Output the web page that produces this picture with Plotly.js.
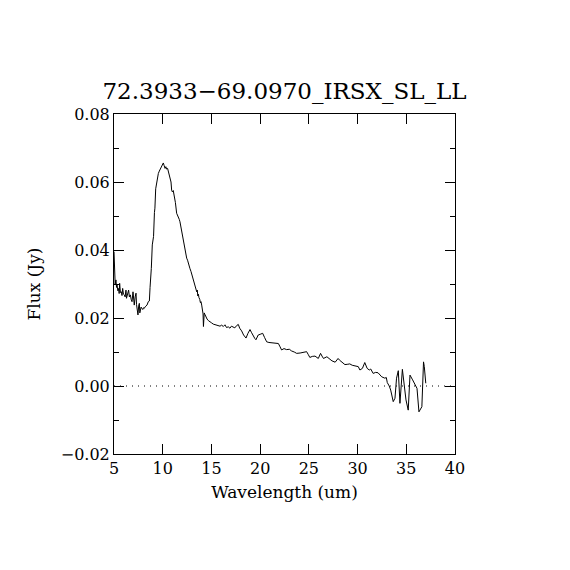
<!DOCTYPE html>
<html>
<head>
<meta charset="utf-8">
<script src="https://cdn.plot.ly/plotly-3.0.1.min.js"></script>
<style>html,body{margin:0;padding:0;background:#fff;}#chart{width:570px;height:570px;}</style>
</head>
<body>
<div id="chart"></div>
<script>
const wavelength = [
5.00,5.03,5.06,5.12,5.20,5.26,5.31,5.40,5.48,5.53,5.58,5.66,5.75,5.82,5.89,5.97,6.06,6.14,6.23,6.28,
6.33,6.42,6.50,6.58,6.68,6.76,6.85,6.95,7.02,7.08,7.17,7.26,7.31,7.36,7.46,7.53,7.60,7.65,7.70,7.78,
7.87,7.95,8.02,8.10,8.20,8.30,8.39,8.52,8.63,8.70,8.76,8.83,8.93,9.06,9.15,9.20,9.28,9.38,9.48,9.55,
9.65,9.72,9.85,9.96,10.06,10.15,10.24,10.32,10.40,10.50,10.58,10.65,10.75,10.85,10.92,10.99,11.08,11.20,11.30,11.43,
11.52,11.60,11.70,11.77,11.86,11.95,12.05,12.15,12.22,12.30,12.38,12.46,12.55,12.63,12.70,12.80,12.90,12.97,13.05,13.12,
13.18,13.24,13.32,13.40,13.49,13.55,13.60,13.66,13.72,13.80,13.87,13.93,14.00,14.05,14.10,14.14,14.18,14.22,14.26,14.34,
14.45,14.55,14.70,14.85,15.00,15.19,15.37,15.55,15.70,15.88,16.05,16.22,16.39,16.55,16.73,16.90,17.05,17.24,17.40,17.60,
17.76,17.90,18.10,18.30,18.55,18.75,18.96,19.10,19.30,19.45,19.57,19.70,19.80,20.00,20.26,20.45,20.67,20.90,21.18,21.50,
21.87,22.05,22.20,22.45,22.72,23.00,23.23,23.50,23.75,24.10,24.43,24.77,24.95,25.10,25.35,25.63,25.97,26.20,26.35,26.50,
26.85,27.10,27.37,27.70,28.00,28.15,28.40,28.70,29.00,29.20,29.45,29.70,30.07,30.24,30.50,30.74,30.85,30.98,31.20,31.35,
31.60,31.85,32.10,32.30,32.48,32.80,32.95,33.05,33.25,33.40,33.66,33.84,34.00,34.18,34.28,34.35,34.60,34.80,34.97,35.20,
35.38,35.65,35.90,36.10,36.30,36.60,36.77,36.85,37.00
];
const flux = [
0.0395,0.0330,0.0307,0.0300,0.0312,0.0290,0.0297,0.0280,0.0287,0.0272,0.0302,0.0275,0.0277,0.0266,0.0287,0.0270,0.0268,0.0262,0.0282,0.0258,
0.0263,0.0275,0.0282,0.0262,0.0268,0.0255,0.0248,0.0277,0.0250,0.0238,0.0262,0.0273,0.0240,0.0228,0.0209,0.0235,0.0243,0.0215,0.0224,0.0232,
0.0228,0.0225,0.0230,0.0228,0.0233,0.0236,0.0238,0.0248,0.0250,0.0290,0.0340,0.0346,0.0415,0.0440,0.0510,0.0523,0.0580,0.0600,0.0620,0.0625,
0.0632,0.0636,0.0643,0.0650,0.0656,0.0648,0.0640,0.0645,0.0638,0.0640,0.0630,0.0620,0.0612,0.0600,0.0575,0.0571,0.0575,0.0560,0.0540,0.0508,
0.0503,0.0498,0.0490,0.0483,0.0468,0.0450,0.0440,0.0425,0.0415,0.0400,0.0385,0.0376,0.0370,0.0360,0.0356,0.0345,0.0337,0.0330,0.0320,0.0312,
0.0305,0.0297,0.0290,0.0283,0.0277,0.0282,0.0265,0.0270,0.0260,0.0255,0.0245,0.0248,0.0238,0.0228,0.0225,0.0212,0.0175,0.0195,0.0215,0.0210,
0.0200,0.0197,0.0192,0.0190,0.0186,0.0182,0.0180,0.0179,0.0177,0.0176,0.0179,0.0175,0.0180,0.0172,0.0174,0.0170,0.0176,0.0174,0.0171,0.0178,
0.0181,0.0170,0.0162,0.0150,0.0141,0.0155,0.0166,0.0158,0.0145,0.0140,0.0136,0.0148,0.0150,0.0152,0.0155,0.0143,0.0130,0.0128,0.0127,0.0127,
0.0125,0.0115,0.0106,0.0110,0.0107,0.0108,0.0103,0.0100,0.0096,0.0097,0.0098,0.0101,0.0092,0.0084,0.0087,0.0088,0.0081,0.0096,0.0088,0.0081,
0.0086,0.0080,0.0074,0.0070,0.0081,0.0076,0.0070,0.0063,0.0064,0.0065,0.0061,0.0059,0.0057,0.0047,0.0052,0.0069,0.0060,0.0052,0.0047,0.0050,
0.0037,0.0040,0.0039,0.0033,0.0027,0.0023,0.0025,0.0010,0.0000,-0.0012,-0.0046,-0.0036,0.0023,0.0045,-0.0010,-0.0051,0.0049,-0.0010,-0.0041,-0.0071,
0.0032,0.0018,0.0003,-0.0007,-0.0076,-0.0061,0.0071,0.0057,0.0008
];
const zeroLineX = [5, 40];
const zeroLineY = [0, 0];
const chartTitle = "72.3933\u221269.0970_IRSX_SL_LL";
const xLabel = "Wavelength (um)";
const yLabel = "Flux (Jy)";
const xTicks = [5,10,15,20,25,30,35,40];
const yTicks = [-0.02,0.00,0.02,0.04,0.06,0.08];
const yTickText = ["\u22120.02","0.00","0.02","0.04","0.06","0.08"];

const font = "DejaVu Serif";
const traces = [
  {x: zeroLineX, y: zeroLineY, mode: "lines", line: {color: "#000", width: 1, dash: "1px,5px"}, hoverinfo: "skip", showlegend: false},
  {x: wavelength, y: flux, mode: "lines", line: {color: "#000", width: 1}, showlegend: false}
];
const axisCommon = {
  showgrid: false, zeroline: false, showline: true, linecolor: "#000", linewidth: 1,
  mirror: "ticks", ticks: "inside", ticklen: 10, tickcolor: "#000", tickwidth: 1,
  tickfont: {family: font, size: 16, color: "#000"}
};
const layout = {
  width: 570, height: 570,
  paper_bgcolor: "#fff", plot_bgcolor: "#fff",
  margin: {l: 114, r: 115, t: 114, b: 116},
  title: {text: chartTitle, font: {family: font, size: 23, color: "#000"}, x: 0.5, xref: "paper", xanchor: "center", y: 1 - 91/570, yref: "container", yanchor: "middle"},
  xaxis: Object.assign({}, axisCommon, {
    range: [5, 40], tickmode: "array", tickvals: xTicks, ticktext: xTicks.map(String),
    title: {text: xLabel, font: {family: font, size: 17, color: "#000"}, standoff: 8}
  }),
  yaxis: Object.assign({}, axisCommon, {
    range: [-0.02, 0.08], tickmode: "array", tickvals: yTicks, ticktext: yTickText,
    minor: {dtick: 0.01, ticks: "inside", ticklen: 5, tickcolor: "#000", showgrid: false},
    title: {text: yLabel, font: {family: font, size: 17, color: "#000"}, standoff: 15}
  })
};
Plotly.newPlot("chart", traces, layout, {displayModeBar: false, staticPlot: true});
</script>
</body>
</html>
